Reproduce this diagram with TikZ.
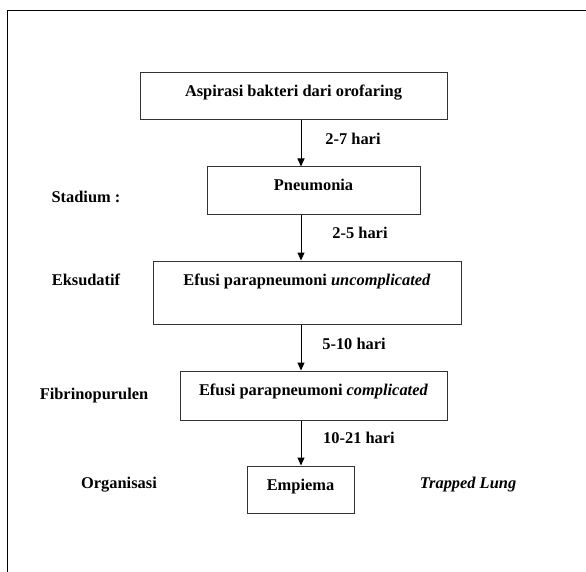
\documentclass[tikz,border=0pt]{standalone}
\usepackage{fontspec}
\setmainfont{Liberation Serif}
\usetikzlibrary{arrows.meta}
\begin{document}
\begin{tikzpicture}[x=1pt, y=-1pt,%
      every node/.style={font=\fontsize{16.4}{19}\selectfont\bfseries},
      stage/.style={rectangle, draw=black!80, line width=1pt, text height=12pt, text depth=11pt, inner sep=0pt},
      flow/.style={line width=1pt, -{Triangle[width=7pt, length=8pt]}},
      phase/.style={inner sep=0pt}]
      \useasboundingbox (0,0) rectangle (586,572);
      \draw[line width=1pt] (586,11) -- (7,11) -- (7,572);
      \coordinate (axis) at (301,0);
      % stages
      \node[stage, minimum width=307pt, minimum height=47pt] (aspirasi) at (293.5,96.5) {Aspirasi bakteri dari orofaring};
      \node[stage, minimum width=213pt, minimum height=47pt, text depth=12pt] (pneumonia) at (313.5,190.5) {Pneumonia};
      \node[stage, minimum width=308pt, minimum height=63pt, text depth=26pt] (uncompl) at (307,292.5) {Efusi parapneumoni \textit{uncomplicated}};
      \node[stage, minimum width=267pt, minimum height=49pt, text depth=12pt] (compl) at (313.5,395.5) {Efusi parapneumoni \textit{complicated}};
      \node[stage, minimum width=107pt, minimum height=47pt, text depth=10pt] (empiema) at (300.5,489.5) {Empiema};
      % arrows
      \draw[flow] (aspirasi.south -| axis) -- (pneumonia.north -| axis);
      \draw[flow] (pneumonia.south -| axis) -- (uncompl.north -| axis);
      \draw[flow] (uncompl.south -| axis) -- (compl.north -| axis);
      \draw[flow] (compl.south -| axis) -- (empiema.north -| axis);
      \node[phase] (t1) at (353,139) {2-7 hari};
      \node[phase] (t2) at (360,233) {2-5 hari};
      \node[phase] (t3) at (354,344) {5-10 hari};
      \node[phase] (t4) at (359,438) {10-21 hari};
      % stadium
      \node[phase] (stadium) at (86,197) {Stadium :};
      \node[phase] (eksudatif) at (86,280) {Eksudatif};
      \node[phase] (fibrino) at (94,396) {Fibrinopurulen};
      \node[phase] (organisasi) at (119,485) {Organisasi};
      \node[phase] (trapped) at (468,485) {\textit{Trapped Lung}};
\end{tikzpicture}
\end{document}
